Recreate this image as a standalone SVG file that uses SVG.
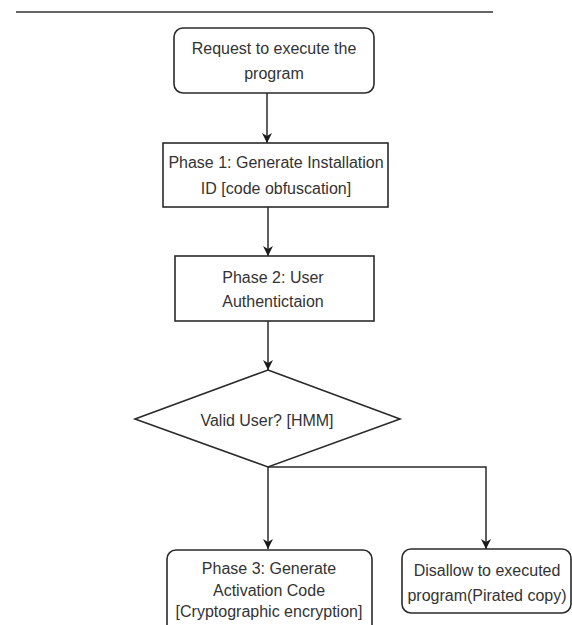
<svg xmlns="http://www.w3.org/2000/svg" width="572" height="625" viewBox="0 0 572 625">
  <defs>
    <marker id="arrow" viewBox="0 0 10 10" refX="10" refY="5" markerWidth="10" markerHeight="10" markerUnits="userSpaceOnUse" orient="auto">
      <path d="M0,0 L10,5 L0,10 L3,5 Z" fill="#1a1a1a"/>
    </marker>
  </defs>
  <style>
    .shape { fill: #ffffff; stroke: #2a2a2a; stroke-width: 1.6; }
    .edge { fill: none; stroke: #2a2a2a; stroke-width: 1.5; }
    .label { font-family: "Liberation Sans", Arial, sans-serif; font-size: 16px; fill: #333333; text-anchor: middle; }
  </style>
  <rect width="572" height="625" fill="#ffffff"/>

  <!-- header rule -->
  <line x1="16" y1="12" x2="493" y2="12" stroke="#333333" stroke-width="1.6"/>

  <g id="connectors">
    <line class="edge" x1="267" y1="93" x2="267" y2="143" marker-end="url(#arrow)"/>
    <line class="edge" x1="268" y1="207" x2="268" y2="256" marker-end="url(#arrow)"/>
    <line class="edge" x1="268" y1="321" x2="268" y2="370" marker-end="url(#arrow)"/>
    <line class="edge" x1="268" y1="467" x2="268" y2="549" marker-end="url(#arrow)"/>
    <polyline class="edge" points="268,467 486,467 486,549" marker-end="url(#arrow)"/>
  </g>

  <g id="request">
    <rect class="shape" x="174" y="28" width="200" height="65" rx="9"/>
    <text class="label" x="274" y="54">Request to execute the</text>
    <text class="label" x="274" y="79">program</text>
  </g>

  <g id="phase1">
    <rect class="shape" x="163" y="143" width="225" height="64"/>
    <text class="label" x="276" y="168">Phase 1: Generate Installation</text>
    <text class="label" x="276" y="194">ID [code obfuscation]</text>
  </g>

  <g id="phase2">
    <rect class="shape" x="175" y="256" width="199" height="65"/>
    <text class="label" x="273" y="283">Phase 2: User</text>
    <text class="label" x="273" y="307">Authentictaion</text>
  </g>

  <g id="valid-user">
    <polygon class="shape" points="268,370 400,419 268,467 135,419"/>
    <text class="label" x="267" y="426">Valid User? [HMM]</text>
  </g>

  <g id="phase3">
    <rect class="shape" x="167" y="550" width="205" height="90" rx="9"/>
    <text class="label" x="269" y="574">Phase 3: Generate</text>
    <text class="label" x="269" y="596">Activation Code</text>
    <text class="label" x="269" y="617">[Cryptographic encryption]</text>
  </g>

  <g id="disallow">
    <rect class="shape" x="402" y="549" width="169" height="64" rx="9"/>
    <text class="label" x="487" y="576">Disallow to executed</text>
    <text class="label" x="487" y="601">program(Pirated copy)</text>
  </g>
</svg>
